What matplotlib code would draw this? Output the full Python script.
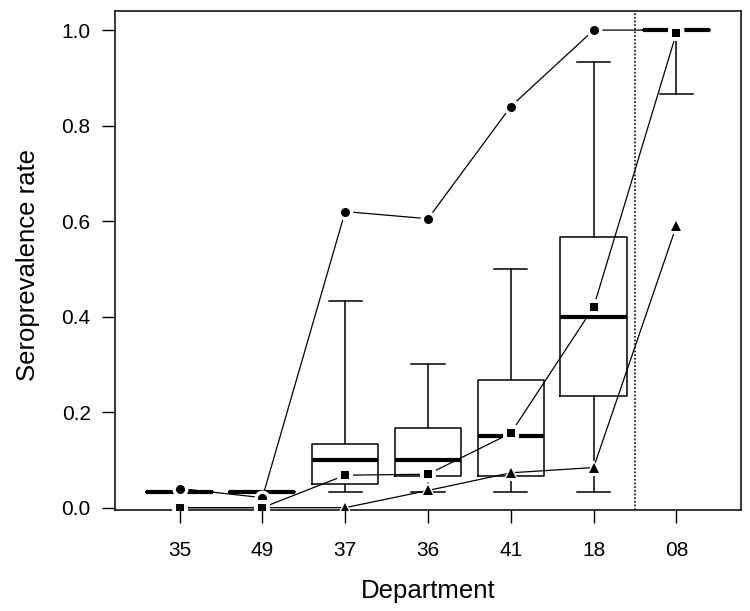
import matplotlib.pyplot as plt

plt.rcParams['font.family'] = ['Liberation Sans', 'DejaVu Sans']

# departments in plotting order
departments = ['35', '49', '37', '36', '41', '18', '08']

# box statistics
whisk_lo = [0.033, 0.033, 0.033, 0.033, 0.033, 0.033, 0.867]
q1 = [0.033, 0.033, 0.050, 0.067, 0.067, 0.233, 1.0]
med = [0.033, 0.033, 0.100, 0.100, 0.150, 0.400, 1.0]
q3 = [0.033, 0.033, 0.133, 0.167, 0.267, 0.567, 1.0]
whisk_hi = [0.033, 0.033, 0.433, 0.300, 0.500, 0.933, 1.0]

# point series
circles = [0.040, 0.021, 0.620, 0.605, 0.840, 1.0, 1.0]
triangles = [0.0, 0.0, 0.0, 0.036, 0.073, 0.084, 0.590]
squares = [0.0, 0.0, 0.068, 0.070, 0.156, 0.420, 0.994]

pos = list(range(1, len(departments) + 1))

fig = plt.figure(figsize=(7.5, 6.11), dpi=100)
ax = fig.add_axes([0.1533, 0.166, 0.8347, 0.816])

stats = []
for i in range(len(departments)):
    stats.append(dict(whislo=whisk_lo[i], q1=q1[i], med=med[i], q3=q3[i],
                      whishi=whisk_hi[i], fliers=[]))

ax.bxp(stats, positions=pos, widths=0.8, capwidths=0.4, showfliers=False,
       boxprops=dict(color='black', lw=1.1),
       whiskerprops=dict(color='black', lw=1.1),
       capprops=dict(color='black', lw=1.1),
       medianprops=dict(color='black', lw=3.0, solid_capstyle='butt'))

ax.axvline(6.5, color='black', lw=1.1, ls=(0, (1.2, 1.2)))

# R type="b" look: line, white halo, then black marker (each series on top of the last)
series = [(circles, 'o', 6.5, 11.5), (triangles, '^', 7, 12), (squares, 's', 5.5, 11)]
z = 4
for vals, mk, ms, halo in series:
    ax.plot(pos, vals, color='black', lw=0.9, zorder=z)
    ax.plot(pos, vals, ls='none', marker=mk, ms=halo, mfc='white', mec='white',
            mew=0, zorder=z + 1)
    ax.plot(pos, vals, ls='none', marker=mk, ms=ms, mfc='black', mec='black',
            mew=0, zorder=z + 2)
    z += 3

ax.set_xlim(0.22, 7.78)
ax.set_ylim(-0.004, 1.04)
ax.set_xticks(pos)
ax.set_xticklabels(departments)
ax.set_yticks([0.0, 0.2, 0.4, 0.6, 0.8, 1.0])
ax.set_yticklabels(['0.0', '0.2', '0.4', '0.6', '0.8', '1.0'])
ax.tick_params(axis='both', direction='out', length=9.5, width=1.0, labelsize=15)
ax.tick_params(axis='x', pad=13)
ax.tick_params(axis='y', pad=8)
for s in ax.spines.values():
    s.set_linewidth(1.1)

ax.set_xlabel('Department', fontsize=18.5, va='baseline')
ax.set_ylabel('Seroprevalence rate', fontsize=18.5, va='center')
ax.xaxis.set_label_coords(0.5, -0.1775)
ax.yaxis.set_label_coords(-0.139, 0.49)

fig.savefig('out.png', dpi=100)
